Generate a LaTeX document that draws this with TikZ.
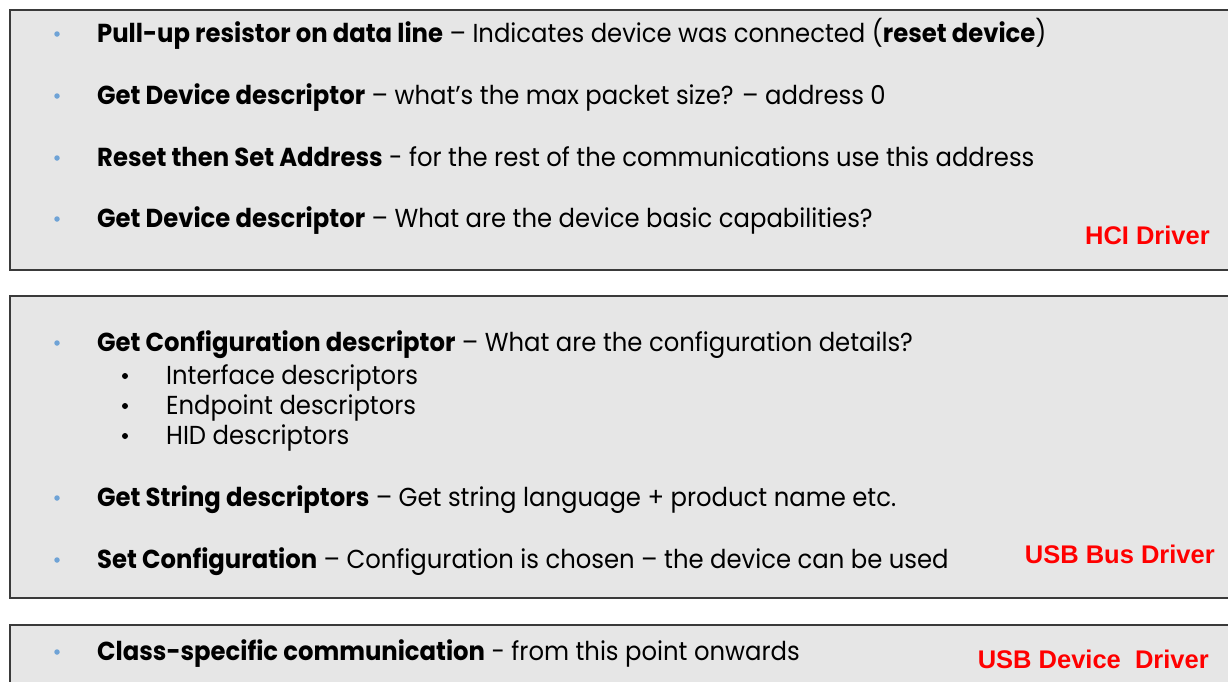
\documentclass[tikz,border=0pt]{standalone}
\usepackage{fontspec}
\setmainfont{Poppins}
\newfontfamily\tagfont{Liberation Sans}
\definecolor{panelfill}{HTML}{E6E6E6}
\definecolor{panelrule}{HTML}{3A3A3A}
\definecolor{dotblue}{HTML}{6FA3D6}
\definecolor{tagred}{HTML}{FF0000}
\begin{document}
\begin{tikzpicture}[x=1pt,y=-1pt,
  panel/.style={fill=panelfill,draw=panelrule,line width=1.6pt},
  txt/.style={anchor=base west,inner sep=0pt,font=\fontsize{26}{30}\selectfont,xscale=0.935,transform shape},
  tag/.style={anchor=base east,inner sep=0pt,text=tagred,font=\tagfont\bfseries\fontsize{25.5}{29}\selectfont},
  dot/.style={circle,fill=dotblue,inner sep=0pt,minimum size=5.5pt},
  subdot/.style={circle,fill=black,inner sep=0pt,minimum size=6pt}]
\useasboundingbox (0,0) rectangle (1228,681);
\clip (0,0) rectangle (1228,681);
\fill[white] (0,0) rectangle (1228,681);

% three stacked panels, running off the right edge
\draw[panel] (10,10) rectangle (1245,270);
\draw[panel] (10,296) rectangle (1245,598);
\draw[panel] (10,625) rectangle (1245,700);

% panel 1: HCI driver steps
\node[dot] (d1) at (57,34) {};
\node[txt] (t1) at (97,42) {\textbf{Pull-up resistor on data line} – Indicates device was connected (\textbf{reset device})};
\node[dot] (d2) at (57,96) {};
\node[txt] (t2) at (97,104) {\textbf{Get Device descriptor} – what’s the max packet size? – address 0};
\node[dot] (d3) at (57,158) {};
\node[txt] (t3) at (97,166) {\textbf{Reset then Set Address} - for the rest of the communications use this address};
\node[dot] (d4) at (57,219) {};
\node[txt] (t4) at (97,227) {\textbf{Get Device descriptor} – What are the device basic capabilities?};
\node[tag] (hci) at (1210,244) {HCI Driver};

% panel 2: USB bus driver steps
\node[dot] (d5) at (57,343) {};
\node[txt] (t5) at (97,351) {\textbf{Get Configuration descriptor} – What are the configuration details?};
\node[subdot] (s1) at (125,376) {};
\node[txt] (u1) at (166,384) {Interface descriptors};
\node[subdot] (s2) at (125,406) {};
\node[txt] (u2) at (166,414) {Endpoint descriptors};
\node[subdot] (s3) at (125,436) {};
\node[txt] (u3) at (166,444) {HID descriptors};
\node[dot] (d6) at (57,498) {};
\node[txt] (t6) at (97,506) {\textbf{Get String descriptors} – Get string language + product name etc.};
\node[dot] (d7) at (57,560) {};
\node[txt] (t7) at (97,568) {\textbf{Set Configuration} – Configuration is chosen – the device can be used};
\node[tag] (bus) at (1215,563) {USB Bus Driver};

% panel 3: USB device driver
\node[dot] (d8) at (57,652) {};
\node[txt] (t8) at (97,660) {\textbf{Class-specific communication} - from this point onwards};
\node[tag] (dev) at (1209,668) {USB Device\ \ Driver};
\end{tikzpicture}
\end{document}
